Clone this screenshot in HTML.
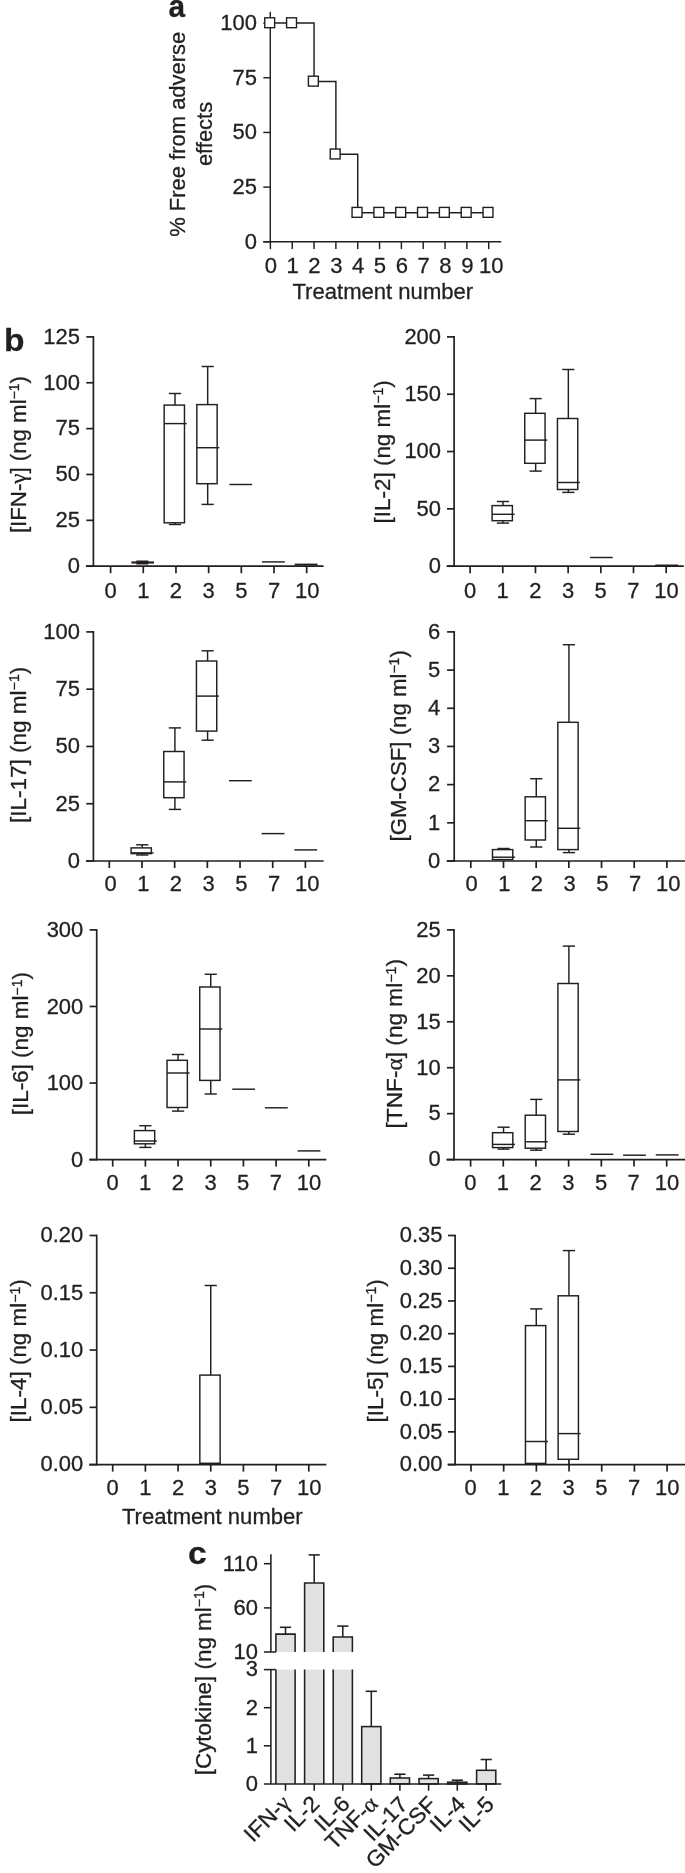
<!DOCTYPE html>
<html><head><meta charset="utf-8"><title>Figure</title>
<style>html,body{margin:0;padding:0;background:#fff}svg{display:block;will-change:transform}text{font-family:"Liberation Sans",sans-serif;fill:#231f20;stroke:#231f20;stroke-width:0.3px}</style>
</head><body>
<svg width="685" height="1873" viewBox="0 0 685 1873" fill="none" stroke="#231f20" stroke-linecap="butt">
<rect x="0" y="0" width="685" height="1873" fill="#fff" stroke="none"/>
<g transform="translate(0 0.30)">
<path d="M270.30 11.50L270.30 242.22" stroke-width="1.45"/>
<path d="M263.30 241.50L270.30 241.50" stroke-width="1.45"/>
<path d="M263.30 186.82L270.30 186.82" stroke-width="1.45"/>
<path d="M263.30 132.15L270.30 132.15" stroke-width="1.45"/>
<path d="M263.30 77.48L270.30 77.48" stroke-width="1.45"/>
<path d="M263.30 22.80L270.30 22.80" stroke-width="1.45"/>
<path d="M263.30 241.50L501.20 241.50" stroke-width="1.45"/>
<path d="M270.40 241.50L270.40 248.80" stroke-width="1.45"/>
<path d="M292.23 241.50L292.23 248.80" stroke-width="1.45"/>
<path d="M314.06 241.50L314.06 248.80" stroke-width="1.45"/>
<path d="M335.89 241.50L335.89 248.80" stroke-width="1.45"/>
<path d="M357.72 241.50L357.72 248.80" stroke-width="1.45"/>
<path d="M379.55 241.50L379.55 248.80" stroke-width="1.45"/>
<path d="M401.38 241.50L401.38 248.80" stroke-width="1.45"/>
<path d="M423.21 241.50L423.21 248.80" stroke-width="1.45"/>
<path d="M445.04 241.50L445.04 248.80" stroke-width="1.45"/>
<path d="M466.87 241.50L466.87 248.80" stroke-width="1.45"/>
<path d="M488.70 241.50L488.70 248.80" stroke-width="1.45"/>
<path d="M270.40 22.80L292.23 22.80L314.06 22.80L314.06 81.19L335.89 81.19L335.89 154.02L357.72 154.02L357.72 212.41L379.55 212.41L401.38 212.41L423.21 212.41L445.04 212.41L466.87 212.41L488.70 212.41" stroke-width="1.45" stroke-linejoin="miter"/>
<rect x="264.75" y="17.50" width="9.9" height="9.9" fill="#fff" stroke-width="1.4"/>
<rect x="286.58" y="17.50" width="9.9" height="9.9" fill="#fff" stroke-width="1.4"/>
<rect x="308.41" y="75.89" width="9.9" height="9.9" fill="#fff" stroke-width="1.4"/>
<rect x="330.24" y="148.72" width="9.9" height="9.9" fill="#fff" stroke-width="1.4"/>
<rect x="352.07" y="207.11" width="9.9" height="9.9" fill="#fff" stroke-width="1.4"/>
<rect x="373.90" y="207.11" width="9.9" height="9.9" fill="#fff" stroke-width="1.4"/>
<rect x="395.73" y="207.11" width="9.9" height="9.9" fill="#fff" stroke-width="1.4"/>
<rect x="417.56" y="207.11" width="9.9" height="9.9" fill="#fff" stroke-width="1.4"/>
<rect x="439.39" y="207.11" width="9.9" height="9.9" fill="#fff" stroke-width="1.4"/>
<rect x="461.22" y="207.11" width="9.9" height="9.9" fill="#fff" stroke-width="1.4"/>
<rect x="483.05" y="207.11" width="9.9" height="9.9" fill="#fff" stroke-width="1.4"/>
<path d="M93.40 335.75L93.40 566.75" stroke-width="1.7"/>
<path d="M86.30 336.60L93.40 336.60" stroke-width="1.7"/>
<path d="M86.30 382.46L93.40 382.46" stroke-width="1.7"/>
<path d="M86.30 428.32L93.40 428.32" stroke-width="1.7"/>
<path d="M86.30 474.18L93.40 474.18" stroke-width="1.7"/>
<path d="M86.30 520.04L93.40 520.04" stroke-width="1.7"/>
<path d="M86.30 565.90L93.40 565.90" stroke-width="1.7"/>
<path d="M85.90 565.90L323.60 565.90" stroke-width="1.7"/>
<path d="M110.60 565.90L110.60 572.90" stroke-width="1.7"/>
<path d="M143.28 565.90L143.28 572.90" stroke-width="1.7"/>
<path d="M175.96 565.90L175.96 572.90" stroke-width="1.7"/>
<path d="M208.64 565.90L208.64 572.90" stroke-width="1.7"/>
<path d="M241.32 565.90L241.32 572.90" stroke-width="1.7"/>
<path d="M274.00 565.90L274.00 572.90" stroke-width="1.7"/>
<path d="M306.68 565.90L306.68 572.90" stroke-width="1.7"/>
<path d="M131.43 562.20L154.03 562.20" stroke-width="2.2"/>
<path d="M136.33 562.20L148.33 562.20" stroke-width="4.0"/>
<path d="M175.01 404.80L175.01 393.20" stroke-width="1.45"/>
<path d="M168.91 393.20L181.11 393.20" stroke-width="1.45"/>
<path d="M175.01 522.50L175.01 524.20" stroke-width="1.45"/>
<path d="M168.91 524.20L181.11 524.20" stroke-width="1.45"/>
<rect x="164.16" y="404.80" width="20.30" height="117.70" fill="#fff" stroke-width="1.45"/>
<path d="M164.16 423.30L186.66 423.30" stroke-width="1.45"/>
<path d="M207.69 404.30L207.69 366.20" stroke-width="1.45"/>
<path d="M201.59 366.20L213.79 366.20" stroke-width="1.45"/>
<path d="M207.69 483.40L207.69 504.10" stroke-width="1.45"/>
<path d="M201.59 504.10L213.79 504.10" stroke-width="1.45"/>
<rect x="196.84" y="404.30" width="20.30" height="79.10" fill="#fff" stroke-width="1.45"/>
<path d="M196.84 447.40L219.34 447.40" stroke-width="1.45"/>
<path d="M229.37 484.20L252.17 484.20" stroke-width="1.45"/>
<path d="M262.05 561.60L284.85 561.60" stroke-width="1.45"/>
<path d="M294.73 564.30L317.53 564.30" stroke-width="2.0"/>
<path d="M454.10 335.75L454.10 566.75" stroke-width="1.7"/>
<path d="M447.00 336.60L454.10 336.60" stroke-width="1.7"/>
<path d="M447.00 393.93L454.10 393.93" stroke-width="1.7"/>
<path d="M447.00 451.25L454.10 451.25" stroke-width="1.7"/>
<path d="M447.00 508.57L454.10 508.57" stroke-width="1.7"/>
<path d="M447.00 565.90L454.10 565.90" stroke-width="1.7"/>
<path d="M446.60 565.90L683.80 565.90" stroke-width="1.7"/>
<path d="M470.10 565.90L470.10 572.90" stroke-width="1.7"/>
<path d="M502.78 565.90L502.78 572.90" stroke-width="1.7"/>
<path d="M535.46 565.90L535.46 572.90" stroke-width="1.7"/>
<path d="M568.14 565.90L568.14 572.90" stroke-width="1.7"/>
<path d="M600.82 565.90L600.82 572.90" stroke-width="1.7"/>
<path d="M633.50 565.90L633.50 572.90" stroke-width="1.7"/>
<path d="M666.18 565.90L666.18 572.90" stroke-width="1.7"/>
<path d="M502.98 505.30L502.98 501.20" stroke-width="1.45"/>
<path d="M496.88 501.20L509.08 501.20" stroke-width="1.45"/>
<path d="M502.98 520.40L502.98 522.80" stroke-width="1.45"/>
<path d="M496.88 522.80L509.08 522.80" stroke-width="1.45"/>
<rect x="492.08" y="505.30" width="20.30" height="15.10" fill="#fff" stroke-width="1.45"/>
<path d="M492.08 514.00L514.58 514.00" stroke-width="1.45"/>
<path d="M535.66 413.00L535.66 398.30" stroke-width="1.45"/>
<path d="M529.56 398.30L541.76 398.30" stroke-width="1.45"/>
<path d="M535.66 463.00L535.66 470.80" stroke-width="1.45"/>
<path d="M529.56 470.80L541.76 470.80" stroke-width="1.45"/>
<rect x="524.76" y="413.00" width="20.30" height="50.00" fill="#fff" stroke-width="1.45"/>
<path d="M524.76 439.80L547.26 439.80" stroke-width="1.45"/>
<path d="M568.34 418.20L568.34 369.20" stroke-width="1.45"/>
<path d="M562.24 369.20L574.44 369.20" stroke-width="1.45"/>
<path d="M568.34 489.20L568.34 492.10" stroke-width="1.45"/>
<path d="M562.24 492.10L574.44 492.10" stroke-width="1.45"/>
<rect x="557.44" y="418.20" width="20.30" height="71.00" fill="#fff" stroke-width="1.45"/>
<path d="M557.44 482.20L579.94 482.20" stroke-width="1.45"/>
<path d="M589.97 557.20L612.77 557.20" stroke-width="1.45"/>
<path d="M655.33 565.00L678.13 565.00" stroke-width="1.6"/>
<path d="M93.40 630.75L93.40 861.55" stroke-width="1.7"/>
<path d="M86.30 631.60L93.40 631.60" stroke-width="1.7"/>
<path d="M86.30 688.88L93.40 688.88" stroke-width="1.7"/>
<path d="M86.30 746.15L93.40 746.15" stroke-width="1.7"/>
<path d="M86.30 803.43L93.40 803.43" stroke-width="1.7"/>
<path d="M86.30 860.70L93.40 860.70" stroke-width="1.7"/>
<path d="M85.90 860.70L323.60 860.70" stroke-width="1.7"/>
<path d="M109.30 860.70L109.30 867.70" stroke-width="1.7"/>
<path d="M141.98 860.70L141.98 867.70" stroke-width="1.7"/>
<path d="M174.66 860.70L174.66 867.70" stroke-width="1.7"/>
<path d="M207.34 860.70L207.34 867.70" stroke-width="1.7"/>
<path d="M240.02 860.70L240.02 867.70" stroke-width="1.7"/>
<path d="M272.70 860.70L272.70 867.70" stroke-width="1.7"/>
<path d="M305.38 860.70L305.38 867.70" stroke-width="1.7"/>
<path d="M142.23 847.60L142.23 844.50" stroke-width="1.45"/>
<path d="M136.13 844.50L148.33 844.50" stroke-width="1.45"/>
<path d="M142.23 853.30L142.23 854.70" stroke-width="1.45"/>
<path d="M136.13 854.70L148.33 854.70" stroke-width="1.45"/>
<rect x="131.08" y="847.60" width="20.30" height="5.70" fill="#fff" stroke-width="1.45"/>
<path d="M131.08 852.60L153.58 852.60" stroke-width="1.45"/>
<path d="M174.91 751.20L174.91 727.60" stroke-width="1.45"/>
<path d="M168.81 727.60L181.01 727.60" stroke-width="1.45"/>
<path d="M174.91 797.40L174.91 809.10" stroke-width="1.45"/>
<path d="M168.81 809.10L181.01 809.10" stroke-width="1.45"/>
<rect x="163.76" y="751.20" width="20.30" height="46.20" fill="#fff" stroke-width="1.45"/>
<path d="M163.76 781.60L186.26 781.60" stroke-width="1.45"/>
<path d="M207.59 660.70L207.59 650.50" stroke-width="1.45"/>
<path d="M201.49 650.50L213.69 650.50" stroke-width="1.45"/>
<path d="M207.59 730.80L207.59 739.90" stroke-width="1.45"/>
<path d="M201.49 739.90L213.69 739.90" stroke-width="1.45"/>
<rect x="196.44" y="660.70" width="20.30" height="70.10" fill="#fff" stroke-width="1.45"/>
<path d="M196.44 695.80L218.94 695.80" stroke-width="1.45"/>
<path d="M228.97 780.40L251.77 780.40" stroke-width="1.45"/>
<path d="M261.65 833.30L284.45 833.30" stroke-width="1.45"/>
<path d="M294.33 849.60L317.13 849.60" stroke-width="1.45"/>
<path d="M454.20 630.75L454.20 861.55" stroke-width="1.7"/>
<path d="M447.10 631.60L454.20 631.60" stroke-width="1.7"/>
<path d="M447.10 669.78L454.20 669.78" stroke-width="1.7"/>
<path d="M447.10 707.97L454.20 707.97" stroke-width="1.7"/>
<path d="M447.10 746.15L454.20 746.15" stroke-width="1.7"/>
<path d="M447.10 784.33L454.20 784.33" stroke-width="1.7"/>
<path d="M447.10 822.52L454.20 822.52" stroke-width="1.7"/>
<path d="M447.10 860.70L454.20 860.70" stroke-width="1.7"/>
<path d="M446.70 860.70L685.00 860.70" stroke-width="1.7"/>
<path d="M470.80 860.70L470.80 867.70" stroke-width="1.7"/>
<path d="M503.48 860.70L503.48 867.70" stroke-width="1.7"/>
<path d="M536.16 860.70L536.16 867.70" stroke-width="1.7"/>
<path d="M568.84 860.70L568.84 867.70" stroke-width="1.7"/>
<path d="M601.52 860.70L601.52 867.70" stroke-width="1.7"/>
<path d="M634.20 860.70L634.20 867.70" stroke-width="1.7"/>
<path d="M666.88 860.70L666.88 867.70" stroke-width="1.7"/>
<path d="M503.58 849.30L503.58 848.20" stroke-width="1.45"/>
<path d="M497.48 848.20L509.68 848.20" stroke-width="1.45"/>
<rect x="492.48" y="849.30" width="20.30" height="10.00" fill="#fff" stroke-width="1.45"/>
<path d="M492.48 856.90L514.98 856.90" stroke-width="1.45"/>
<path d="M536.26 796.50L536.26 778.40" stroke-width="1.45"/>
<path d="M530.16 778.40L542.36 778.40" stroke-width="1.45"/>
<path d="M536.26 839.70L536.26 846.70" stroke-width="1.45"/>
<path d="M530.16 846.70L542.36 846.70" stroke-width="1.45"/>
<rect x="525.16" y="796.50" width="20.30" height="43.20" fill="#fff" stroke-width="1.45"/>
<path d="M525.16 820.40L547.66 820.40" stroke-width="1.45"/>
<path d="M568.94 722.00L568.94 644.40" stroke-width="1.45"/>
<path d="M562.84 644.40L575.04 644.40" stroke-width="1.45"/>
<path d="M568.94 849.30L568.94 852.30" stroke-width="1.45"/>
<path d="M562.84 852.30L575.04 852.30" stroke-width="1.45"/>
<rect x="557.84" y="722.00" width="20.30" height="127.30" fill="#fff" stroke-width="1.45"/>
<path d="M557.84 828.00L580.34 828.00" stroke-width="1.45"/>
<path d="M96.70 928.75L96.70 1160.15" stroke-width="1.7"/>
<path d="M89.60 929.60L96.70 929.60" stroke-width="1.7"/>
<path d="M89.60 1006.17L96.70 1006.17" stroke-width="1.7"/>
<path d="M89.60 1082.73L96.70 1082.73" stroke-width="1.7"/>
<path d="M89.60 1159.30L96.70 1159.30" stroke-width="1.7"/>
<path d="M89.20 1159.30L326.30 1159.30" stroke-width="1.7"/>
<path d="M112.70 1159.30L112.70 1166.30" stroke-width="1.7"/>
<path d="M145.38 1159.30L145.38 1166.30" stroke-width="1.7"/>
<path d="M178.06 1159.30L178.06 1166.30" stroke-width="1.7"/>
<path d="M210.74 1159.30L210.74 1166.30" stroke-width="1.7"/>
<path d="M243.42 1159.30L243.42 1166.30" stroke-width="1.7"/>
<path d="M276.10 1159.30L276.10 1166.30" stroke-width="1.7"/>
<path d="M308.78 1159.30L308.78 1166.30" stroke-width="1.7"/>
<path d="M145.38 1130.30L145.38 1125.40" stroke-width="1.45"/>
<path d="M139.28 1125.40L151.48 1125.40" stroke-width="1.45"/>
<path d="M145.38 1143.50L145.38 1147.10" stroke-width="1.45"/>
<path d="M139.28 1147.10L151.48 1147.10" stroke-width="1.45"/>
<rect x="134.38" y="1130.30" width="20.30" height="13.20" fill="#fff" stroke-width="1.45"/>
<path d="M134.38 1140.70L156.88 1140.70" stroke-width="1.45"/>
<path d="M178.06 1060.00L178.06 1054.20" stroke-width="1.45"/>
<path d="M171.96 1054.20L184.16 1054.20" stroke-width="1.45"/>
<path d="M178.06 1107.20L178.06 1110.80" stroke-width="1.45"/>
<path d="M171.96 1110.80L184.16 1110.80" stroke-width="1.45"/>
<rect x="167.06" y="1060.00" width="20.30" height="47.20" fill="#fff" stroke-width="1.45"/>
<path d="M167.06 1072.70L189.56 1072.70" stroke-width="1.45"/>
<path d="M210.74 986.70L210.74 974.00" stroke-width="1.45"/>
<path d="M204.64 974.00L216.84 974.00" stroke-width="1.45"/>
<path d="M210.74 1080.10L210.74 1093.70" stroke-width="1.45"/>
<path d="M204.64 1093.70L216.84 1093.70" stroke-width="1.45"/>
<rect x="199.74" y="986.70" width="20.30" height="93.40" fill="#fff" stroke-width="1.45"/>
<path d="M199.74 1028.70L222.24 1028.70" stroke-width="1.45"/>
<path d="M232.27 1088.90L255.07 1088.90" stroke-width="1.45"/>
<path d="M264.95 1107.50L287.75 1107.50" stroke-width="1.45"/>
<path d="M297.63 1150.60L320.43 1150.60" stroke-width="1.45"/>
<path d="M454.00 928.75L454.00 1160.15" stroke-width="1.7"/>
<path d="M446.90 929.60L454.00 929.60" stroke-width="1.7"/>
<path d="M446.90 975.54L454.00 975.54" stroke-width="1.7"/>
<path d="M446.90 1021.48L454.00 1021.48" stroke-width="1.7"/>
<path d="M446.90 1067.42L454.00 1067.42" stroke-width="1.7"/>
<path d="M446.90 1113.36L454.00 1113.36" stroke-width="1.7"/>
<path d="M446.90 1159.30L454.00 1159.30" stroke-width="1.7"/>
<path d="M446.50 1159.30L685.00 1159.30" stroke-width="1.7"/>
<path d="M470.60 1159.30L470.60 1166.30" stroke-width="1.7"/>
<path d="M503.28 1159.30L503.28 1166.30" stroke-width="1.7"/>
<path d="M535.96 1159.30L535.96 1166.30" stroke-width="1.7"/>
<path d="M568.64 1159.30L568.64 1166.30" stroke-width="1.7"/>
<path d="M601.32 1159.30L601.32 1166.30" stroke-width="1.7"/>
<path d="M634.00 1159.30L634.00 1166.30" stroke-width="1.7"/>
<path d="M666.68 1159.30L666.68 1166.30" stroke-width="1.7"/>
<path d="M503.53 1132.40L503.53 1126.90" stroke-width="1.45"/>
<path d="M497.43 1126.90L509.63 1126.90" stroke-width="1.45"/>
<path d="M503.53 1147.30L503.53 1148.80" stroke-width="1.45"/>
<path d="M497.43 1148.80L509.63 1148.80" stroke-width="1.45"/>
<rect x="492.53" y="1132.40" width="20.30" height="14.90" fill="#fff" stroke-width="1.45"/>
<path d="M492.53 1144.10L515.03 1144.10" stroke-width="1.45"/>
<path d="M536.21 1114.90L536.21 1099.10" stroke-width="1.45"/>
<path d="M530.11 1099.10L542.31 1099.10" stroke-width="1.45"/>
<path d="M536.21 1147.90L536.21 1149.90" stroke-width="1.45"/>
<path d="M530.11 1149.90L542.31 1149.90" stroke-width="1.45"/>
<rect x="525.21" y="1114.90" width="20.30" height="33.00" fill="#fff" stroke-width="1.45"/>
<path d="M525.21 1141.50L547.71 1141.50" stroke-width="1.45"/>
<path d="M568.89 983.20L568.89 945.80" stroke-width="1.45"/>
<path d="M562.79 945.80L574.99 945.80" stroke-width="1.45"/>
<path d="M568.89 1131.20L568.89 1133.90" stroke-width="1.45"/>
<path d="M562.79 1133.90L574.99 1133.90" stroke-width="1.45"/>
<rect x="557.89" y="983.20" width="20.30" height="148.00" fill="#fff" stroke-width="1.45"/>
<path d="M557.89 1079.60L580.39 1079.60" stroke-width="1.45"/>
<path d="M590.42 1154.00L613.22 1154.00" stroke-width="1.45"/>
<path d="M623.10 1154.90L645.90 1154.90" stroke-width="1.45"/>
<path d="M655.78 1154.60L678.58 1154.60" stroke-width="1.45"/>
<path d="M96.70 1234.35L96.70 1465.15" stroke-width="1.7"/>
<path d="M89.60 1235.20L96.70 1235.20" stroke-width="1.7"/>
<path d="M89.60 1292.47L96.70 1292.47" stroke-width="1.7"/>
<path d="M89.60 1349.75L96.70 1349.75" stroke-width="1.7"/>
<path d="M89.60 1407.03L96.70 1407.03" stroke-width="1.7"/>
<path d="M89.60 1464.30L96.70 1464.30" stroke-width="1.7"/>
<path d="M89.20 1464.30L326.30 1464.30" stroke-width="1.7"/>
<path d="M112.70 1464.30L112.70 1471.30" stroke-width="1.7"/>
<path d="M145.38 1464.30L145.38 1471.30" stroke-width="1.7"/>
<path d="M178.06 1464.30L178.06 1471.30" stroke-width="1.7"/>
<path d="M210.74 1464.30L210.74 1471.30" stroke-width="1.7"/>
<path d="M243.42 1464.30L243.42 1471.30" stroke-width="1.7"/>
<path d="M276.10 1464.30L276.10 1471.30" stroke-width="1.7"/>
<path d="M308.78 1464.30L308.78 1471.30" stroke-width="1.7"/>
<path d="M210.74 1374.80L210.74 1285.20" stroke-width="1.45"/>
<path d="M204.64 1285.20L216.84 1285.20" stroke-width="1.45"/>
<rect x="199.84" y="1374.80" width="20.30" height="88.60" fill="#fff" stroke-width="1.45"/>
<path d="M199.84 1463.00L220.14 1463.00" stroke-width="1.45"/>
<path d="M455.10 1234.35L455.10 1465.15" stroke-width="1.7"/>
<path d="M448.00 1235.20L455.10 1235.20" stroke-width="1.7"/>
<path d="M448.00 1267.93L455.10 1267.93" stroke-width="1.7"/>
<path d="M448.00 1300.66L455.10 1300.66" stroke-width="1.7"/>
<path d="M448.00 1333.39L455.10 1333.39" stroke-width="1.7"/>
<path d="M448.00 1366.11L455.10 1366.11" stroke-width="1.7"/>
<path d="M448.00 1398.84L455.10 1398.84" stroke-width="1.7"/>
<path d="M448.00 1431.57L455.10 1431.57" stroke-width="1.7"/>
<path d="M448.00 1464.30L455.10 1464.30" stroke-width="1.7"/>
<path d="M447.60 1464.30L685.00 1464.30" stroke-width="1.7"/>
<path d="M471.00 1464.30L471.00 1471.30" stroke-width="1.7"/>
<path d="M503.68 1464.30L503.68 1471.30" stroke-width="1.7"/>
<path d="M536.36 1464.30L536.36 1471.30" stroke-width="1.7"/>
<path d="M569.04 1464.30L569.04 1471.30" stroke-width="1.7"/>
<path d="M601.72 1464.30L601.72 1471.30" stroke-width="1.7"/>
<path d="M634.40 1464.30L634.40 1471.30" stroke-width="1.7"/>
<path d="M667.08 1464.30L667.08 1471.30" stroke-width="1.7"/>
<path d="M536.26 1325.30L536.26 1308.60" stroke-width="1.45"/>
<path d="M530.16 1308.60L542.36 1308.60" stroke-width="1.45"/>
<rect x="525.46" y="1325.30" width="20.30" height="137.80" fill="#fff" stroke-width="1.45"/>
<path d="M525.46 1441.20L547.96 1441.20" stroke-width="1.45"/>
<path d="M568.94 1295.50L568.94 1250.30" stroke-width="1.45"/>
<path d="M562.84 1250.30L575.04 1250.30" stroke-width="1.45"/>
<rect x="558.14" y="1295.50" width="20.30" height="163.50" fill="#fff" stroke-width="1.45"/>
<path d="M558.14 1433.30L580.64 1433.30" stroke-width="1.45"/>
<path d="M568.94 1459.00L568.94 1464.20" stroke-width="1.7"/>
<path d="M285.50 1633.80L285.50 1627.00" stroke-width="1.55"/>
<path d="M279.90 1627.00L291.10 1627.00" stroke-width="1.55"/>
<rect x="275.90" y="1633.80" width="19.2" height="17.90" fill="#e1e1e2" stroke="none"/>
<path d="M275.90 1651.70L275.90 1633.80L295.10 1633.80L295.10 1651.70" stroke-width="1.55"/>
<rect x="275.90" y="1669.30" width="19.2" height="114.30" fill="#e1e1e2" stroke="none"/>
<path d="M275.90 1669.30L275.90 1783.60M295.10 1669.30L295.10 1783.60" stroke-width="1.55"/>
<path d="M314.20 1582.60L314.20 1554.60" stroke-width="1.55"/>
<path d="M308.60 1554.60L319.80 1554.60" stroke-width="1.55"/>
<rect x="304.60" y="1582.60" width="19.2" height="69.10" fill="#e1e1e2" stroke="none"/>
<path d="M304.60 1651.70L304.60 1582.60L323.80 1582.60L323.80 1651.70" stroke-width="1.55"/>
<rect x="304.60" y="1669.30" width="19.2" height="114.30" fill="#e1e1e2" stroke="none"/>
<path d="M304.60 1669.30L304.60 1783.60M323.80 1669.30L323.80 1783.60" stroke-width="1.55"/>
<path d="M342.80 1636.60L342.80 1625.80" stroke-width="1.55"/>
<path d="M337.20 1625.80L348.40 1625.80" stroke-width="1.55"/>
<rect x="333.20" y="1636.60" width="19.2" height="15.10" fill="#e1e1e2" stroke="none"/>
<path d="M333.20 1651.70L333.20 1636.60L352.40 1636.60L352.40 1651.70" stroke-width="1.55"/>
<rect x="333.20" y="1669.30" width="19.2" height="114.30" fill="#e1e1e2" stroke="none"/>
<path d="M333.20 1669.30L333.20 1783.60M352.40 1669.30L352.40 1783.60" stroke-width="1.55"/>
<path d="M371.30 1726.30L371.30 1691.00" stroke-width="1.55"/>
<path d="M365.70 1691.00L376.90 1691.00" stroke-width="1.55"/>
<rect x="361.70" y="1726.30" width="19.2" height="57.30" fill="#e1e1e2" stroke-width="1.55"/>
<path d="M399.90 1777.70L399.90 1773.90" stroke-width="1.55"/>
<path d="M394.30 1773.90L405.50 1773.90" stroke-width="1.55"/>
<rect x="390.30" y="1777.70" width="19.2" height="5.90" fill="#e1e1e2" stroke-width="1.55"/>
<path d="M428.60 1778.30L428.60 1774.80" stroke-width="1.55"/>
<path d="M423.00 1774.80L434.20 1774.80" stroke-width="1.55"/>
<rect x="419.00" y="1778.30" width="19.2" height="5.30" fill="#e1e1e2" stroke-width="1.55"/>
<path d="M457.30 1781.90L457.30 1779.90" stroke-width="1.55"/>
<path d="M451.70 1779.90L462.90 1779.90" stroke-width="1.55"/>
<rect x="447.70" y="1781.90" width="19.2" height="1.70" fill="#e1e1e2" stroke-width="1.55"/>
<path d="M486.20 1770.00L486.20 1759.20" stroke-width="1.55"/>
<path d="M480.60 1759.20L491.80 1759.20" stroke-width="1.55"/>
<rect x="476.60" y="1770.00" width="19.2" height="13.60" fill="#e1e1e2" stroke-width="1.55"/>
<path d="M270.90 1554.00L270.90 1651.70" stroke-width="1.55"/>
<path d="M263.90 1651.70L275.90 1651.70" stroke-width="1.55"/>
<path d="M263.90 1563.40L270.90 1563.40" stroke-width="1.55"/>
<path d="M263.90 1607.60L270.90 1607.60" stroke-width="1.55"/>
<path d="M270.90 1669.30L270.90 1783.60" stroke-width="1.55"/>
<path d="M263.90 1669.30L275.90 1669.30" stroke-width="1.55"/>
<path d="M263.90 1707.40L270.90 1707.40" stroke-width="1.55"/>
<path d="M263.90 1745.50L270.90 1745.50" stroke-width="1.55"/>
<path d="M263.90 1783.60L501.30 1783.60" stroke-width="1.55"/>
<path d="M285.50 1783.60L285.50 1790.40" stroke-width="1.55"/>
<path d="M314.20 1783.60L314.20 1790.40" stroke-width="1.55"/>
<path d="M342.80 1783.60L342.80 1790.40" stroke-width="1.55"/>
<path d="M371.30 1783.60L371.30 1790.40" stroke-width="1.55"/>
<path d="M399.90 1783.60L399.90 1790.40" stroke-width="1.55"/>
<path d="M428.60 1783.60L428.60 1790.40" stroke-width="1.55"/>
<path d="M457.30 1783.60L457.30 1790.40" stroke-width="1.55"/>
<path d="M486.20 1783.60L486.20 1790.40" stroke-width="1.55"/>
</g>
<g>
<text transform="translate(168.40 17.00) scale(0.93 1)" text-anchor="start" font-size="32" font-weight="bold">a</text>
<text transform="translate(256.90 249.10) scale(0.99 1)" text-anchor="end" font-size="22.2">0</text>
<text transform="translate(256.90 194.28) scale(0.99 1)" text-anchor="end" font-size="22.2">25</text>
<text transform="translate(256.90 139.45) scale(0.99 1)" text-anchor="end" font-size="22.2">50</text>
<text transform="translate(256.90 84.62) scale(0.99 1)" text-anchor="end" font-size="22.2">75</text>
<text transform="translate(256.90 29.80) scale(0.99 1)" text-anchor="end" font-size="22.2">100</text>
<text transform="translate(270.80 272.90) scale(0.995 1)" text-anchor="middle" font-size="22.2">0</text>
<text transform="translate(292.63 272.90) scale(0.995 1)" text-anchor="middle" font-size="22.2">1</text>
<text transform="translate(314.46 272.90) scale(0.995 1)" text-anchor="middle" font-size="22.2">2</text>
<text transform="translate(336.29 272.90) scale(0.995 1)" text-anchor="middle" font-size="22.2">3</text>
<text transform="translate(358.12 272.90) scale(0.995 1)" text-anchor="middle" font-size="22.2">4</text>
<text transform="translate(379.95 272.90) scale(0.995 1)" text-anchor="middle" font-size="22.2">5</text>
<text transform="translate(401.78 272.90) scale(0.995 1)" text-anchor="middle" font-size="22.2">6</text>
<text transform="translate(423.61 272.90) scale(0.995 1)" text-anchor="middle" font-size="22.2">7</text>
<text transform="translate(445.44 272.90) scale(0.995 1)" text-anchor="middle" font-size="22.2">8</text>
<text transform="translate(467.27 272.90) scale(0.995 1)" text-anchor="middle" font-size="22.2">9</text>
<text transform="translate(491.30 272.90) scale(0.99 1)" text-anchor="middle" font-size="22.2">10</text>
<text transform="translate(382.80 299.00) scale(0.995 1)" text-anchor="middle" font-size="22.2">Treatment number</text>
<text transform="translate(184.90 236.80) rotate(-90)" text-anchor="start" font-size="22.2" textLength="205.10" lengthAdjust="spacingAndGlyphs">% Free from adverse</text>
<text transform="translate(211.50 166.10) rotate(-90)" text-anchor="start" font-size="22.2" textLength="64.20" lengthAdjust="spacingAndGlyphs">effects</text>
<text transform="translate(4.10 350.60) scale(1.05 1)" text-anchor="start" font-size="32" font-weight="bold">b</text>
<text transform="translate(80.00 343.70) scale(0.99 1)" text-anchor="end" font-size="22.2">125</text>
<text transform="translate(80.00 389.56) scale(0.99 1)" text-anchor="end" font-size="22.2">100</text>
<text transform="translate(80.00 435.42) scale(0.99 1)" text-anchor="end" font-size="22.2">75</text>
<text transform="translate(80.00 481.28) scale(0.99 1)" text-anchor="end" font-size="22.2">50</text>
<text transform="translate(80.00 527.14) scale(0.99 1)" text-anchor="end" font-size="22.2">25</text>
<text transform="translate(80.00 573.00) scale(0.99 1)" text-anchor="end" font-size="22.2">0</text>
<text transform="translate(110.60 598.00) scale(0.99 1)" text-anchor="middle" font-size="22.2">0</text>
<text transform="translate(143.28 598.00) scale(0.99 1)" text-anchor="middle" font-size="22.2">1</text>
<text transform="translate(175.96 598.00) scale(0.99 1)" text-anchor="middle" font-size="22.2">2</text>
<text transform="translate(208.64 598.00) scale(0.99 1)" text-anchor="middle" font-size="22.2">3</text>
<text transform="translate(241.32 598.00) scale(0.99 1)" text-anchor="middle" font-size="22.2">5</text>
<text transform="translate(274.00 598.00) scale(0.99 1)" text-anchor="middle" font-size="22.2">7</text>
<text transform="translate(307.18 598.00) scale(0.99 1)" text-anchor="middle" font-size="22.2">10</text>
<text transform="translate(25.80 533.10) rotate(-90)" text-anchor="start" font-size="22.2" textLength="157.10" lengthAdjust="spacingAndGlyphs">[IFN-<tspan font-family="Liberation Serif" font-size="23">γ</tspan>] (ng ml<tspan font-size="14" dy="-6.5">−1</tspan><tspan dy="6.5">)</tspan></text>
<text transform="translate(441.05 343.70) scale(0.99 1)" text-anchor="end" font-size="22.2">200</text>
<text transform="translate(441.05 401.03) scale(0.99 1)" text-anchor="end" font-size="22.2">150</text>
<text transform="translate(441.05 458.35) scale(0.99 1)" text-anchor="end" font-size="22.2">100</text>
<text transform="translate(441.05 515.67) scale(0.99 1)" text-anchor="end" font-size="22.2">50</text>
<text transform="translate(441.05 573.00) scale(0.99 1)" text-anchor="end" font-size="22.2">0</text>
<text transform="translate(470.00 597.70) scale(0.99 1)" text-anchor="middle" font-size="22.2">0</text>
<text transform="translate(502.68 597.70) scale(0.99 1)" text-anchor="middle" font-size="22.2">1</text>
<text transform="translate(535.36 597.70) scale(0.99 1)" text-anchor="middle" font-size="22.2">2</text>
<text transform="translate(568.04 597.70) scale(0.99 1)" text-anchor="middle" font-size="22.2">3</text>
<text transform="translate(600.72 597.70) scale(0.99 1)" text-anchor="middle" font-size="22.2">5</text>
<text transform="translate(633.40 597.70) scale(0.99 1)" text-anchor="middle" font-size="22.2">7</text>
<text transform="translate(666.58 597.70) scale(0.99 1)" text-anchor="middle" font-size="22.2">10</text>
<text transform="translate(389.90 523.40) rotate(-90)" text-anchor="start" font-size="22.2" textLength="143.20" lengthAdjust="spacingAndGlyphs">[IL-2] (ng ml<tspan font-size="14" dy="-6.5">−1</tspan><tspan dy="6.5">)</tspan></text>
<text transform="translate(80.00 638.70) scale(0.99 1)" text-anchor="end" font-size="22.2">100</text>
<text transform="translate(80.00 695.98) scale(0.99 1)" text-anchor="end" font-size="22.2">75</text>
<text transform="translate(80.00 753.25) scale(0.99 1)" text-anchor="end" font-size="22.2">50</text>
<text transform="translate(80.00 810.53) scale(0.99 1)" text-anchor="end" font-size="22.2">25</text>
<text transform="translate(80.00 867.80) scale(0.99 1)" text-anchor="end" font-size="22.2">0</text>
<text transform="translate(110.60 890.50) scale(0.99 1)" text-anchor="middle" font-size="22.2">0</text>
<text transform="translate(143.28 890.50) scale(0.99 1)" text-anchor="middle" font-size="22.2">1</text>
<text transform="translate(175.96 890.50) scale(0.99 1)" text-anchor="middle" font-size="22.2">2</text>
<text transform="translate(208.64 890.50) scale(0.99 1)" text-anchor="middle" font-size="22.2">3</text>
<text transform="translate(241.32 890.50) scale(0.99 1)" text-anchor="middle" font-size="22.2">5</text>
<text transform="translate(274.00 890.50) scale(0.99 1)" text-anchor="middle" font-size="22.2">7</text>
<text transform="translate(307.18 890.50) scale(0.99 1)" text-anchor="middle" font-size="22.2">10</text>
<text transform="translate(25.50 823.10) rotate(-90)" text-anchor="start" font-size="22.2" textLength="156.40" lengthAdjust="spacingAndGlyphs">[IL-17] (ng ml<tspan font-size="14" dy="-6.5">−1</tspan><tspan dy="6.5">)</tspan></text>
<text transform="translate(440.30 638.70) scale(0.99 1)" text-anchor="end" font-size="22.2">6</text>
<text transform="translate(440.30 676.88) scale(0.99 1)" text-anchor="end" font-size="22.2">5</text>
<text transform="translate(440.30 715.07) scale(0.99 1)" text-anchor="end" font-size="22.2">4</text>
<text transform="translate(440.30 753.25) scale(0.99 1)" text-anchor="end" font-size="22.2">3</text>
<text transform="translate(440.30 791.43) scale(0.99 1)" text-anchor="end" font-size="22.2">2</text>
<text transform="translate(440.30 829.62) scale(0.99 1)" text-anchor="end" font-size="22.2">1</text>
<text transform="translate(440.30 867.80) scale(0.99 1)" text-anchor="end" font-size="22.2">0</text>
<text transform="translate(471.60 890.50) scale(0.99 1)" text-anchor="middle" font-size="22.2">0</text>
<text transform="translate(504.28 890.50) scale(0.99 1)" text-anchor="middle" font-size="22.2">1</text>
<text transform="translate(536.96 890.50) scale(0.99 1)" text-anchor="middle" font-size="22.2">2</text>
<text transform="translate(569.64 890.50) scale(0.99 1)" text-anchor="middle" font-size="22.2">3</text>
<text transform="translate(602.32 890.50) scale(0.99 1)" text-anchor="middle" font-size="22.2">5</text>
<text transform="translate(635.00 890.50) scale(0.99 1)" text-anchor="middle" font-size="22.2">7</text>
<text transform="translate(668.18 890.50) scale(0.99 1)" text-anchor="middle" font-size="22.2">10</text>
<text transform="translate(405.80 841.50) rotate(-90)" text-anchor="start" font-size="22.2" textLength="191.30" lengthAdjust="spacingAndGlyphs">[GM-CSF] (ng ml<tspan font-size="14" dy="-6.5">−1</tspan><tspan dy="6.5">)</tspan></text>
<text transform="translate(83.30 937.30) scale(0.99 1)" text-anchor="end" font-size="22.2">300</text>
<text transform="translate(83.30 1013.87) scale(0.99 1)" text-anchor="end" font-size="22.2">200</text>
<text transform="translate(83.30 1090.43) scale(0.99 1)" text-anchor="end" font-size="22.2">100</text>
<text transform="translate(83.30 1167.00) scale(0.99 1)" text-anchor="end" font-size="22.2">0</text>
<text transform="translate(112.50 1189.90) scale(0.99 1)" text-anchor="middle" font-size="22.2">0</text>
<text transform="translate(145.18 1189.90) scale(0.99 1)" text-anchor="middle" font-size="22.2">1</text>
<text transform="translate(177.86 1189.90) scale(0.99 1)" text-anchor="middle" font-size="22.2">2</text>
<text transform="translate(210.54 1189.90) scale(0.99 1)" text-anchor="middle" font-size="22.2">3</text>
<text transform="translate(243.22 1189.90) scale(0.99 1)" text-anchor="middle" font-size="22.2">5</text>
<text transform="translate(275.90 1189.90) scale(0.99 1)" text-anchor="middle" font-size="22.2">7</text>
<text transform="translate(309.08 1189.90) scale(0.99 1)" text-anchor="middle" font-size="22.2">10</text>
<text transform="translate(28.40 1115.30) rotate(-90)" text-anchor="start" font-size="22.2" textLength="143.30" lengthAdjust="spacingAndGlyphs">[IL-6] (ng ml<tspan font-size="14" dy="-6.5">−1</tspan><tspan dy="6.5">)</tspan></text>
<text transform="translate(440.60 936.70) scale(0.99 1)" text-anchor="end" font-size="22.2">25</text>
<text transform="translate(440.60 982.64) scale(0.99 1)" text-anchor="end" font-size="22.2">20</text>
<text transform="translate(440.60 1028.58) scale(0.99 1)" text-anchor="end" font-size="22.2">15</text>
<text transform="translate(440.60 1074.52) scale(0.99 1)" text-anchor="end" font-size="22.2">10</text>
<text transform="translate(440.60 1120.46) scale(0.99 1)" text-anchor="end" font-size="22.2">5</text>
<text transform="translate(440.60 1166.40) scale(0.99 1)" text-anchor="end" font-size="22.2">0</text>
<text transform="translate(470.30 1190.30) scale(0.99 1)" text-anchor="middle" font-size="22.2">0</text>
<text transform="translate(502.98 1190.30) scale(0.99 1)" text-anchor="middle" font-size="22.2">1</text>
<text transform="translate(535.66 1190.30) scale(0.99 1)" text-anchor="middle" font-size="22.2">2</text>
<text transform="translate(568.34 1190.30) scale(0.99 1)" text-anchor="middle" font-size="22.2">3</text>
<text transform="translate(601.02 1190.30) scale(0.99 1)" text-anchor="middle" font-size="22.2">5</text>
<text transform="translate(633.70 1190.30) scale(0.99 1)" text-anchor="middle" font-size="22.2">7</text>
<text transform="translate(666.88 1190.30) scale(0.99 1)" text-anchor="middle" font-size="22.2">10</text>
<text transform="translate(402.20 1128.40) rotate(-90)" text-anchor="start" font-size="22.2" textLength="169.50" lengthAdjust="spacingAndGlyphs">[TNF-<tspan font-family="Liberation Serif" font-size="23">α</tspan>] (ng ml<tspan font-size="14" dy="-6.5">−1</tspan><tspan dy="6.5">)</tspan></text>
<text transform="translate(83.30 1242.30) scale(0.99 1)" text-anchor="end" font-size="22.2">0.20</text>
<text transform="translate(83.30 1299.57) scale(0.99 1)" text-anchor="end" font-size="22.2">0.15</text>
<text transform="translate(83.30 1356.85) scale(0.99 1)" text-anchor="end" font-size="22.2">0.10</text>
<text transform="translate(83.30 1414.12) scale(0.99 1)" text-anchor="end" font-size="22.2">0.05</text>
<text transform="translate(83.30 1471.40) scale(0.99 1)" text-anchor="end" font-size="22.2">0.00</text>
<text transform="translate(112.70 1494.70) scale(0.99 1)" text-anchor="middle" font-size="22.2">0</text>
<text transform="translate(145.38 1494.70) scale(0.99 1)" text-anchor="middle" font-size="22.2">1</text>
<text transform="translate(178.06 1494.70) scale(0.99 1)" text-anchor="middle" font-size="22.2">2</text>
<text transform="translate(210.74 1494.70) scale(0.99 1)" text-anchor="middle" font-size="22.2">3</text>
<text transform="translate(243.42 1494.70) scale(0.99 1)" text-anchor="middle" font-size="22.2">5</text>
<text transform="translate(276.10 1494.70) scale(0.99 1)" text-anchor="middle" font-size="22.2">7</text>
<text transform="translate(309.28 1494.70) scale(0.99 1)" text-anchor="middle" font-size="22.2">10</text>
<text transform="translate(26.20 1422.40) rotate(-90)" text-anchor="start" font-size="22.2" textLength="143.20" lengthAdjust="spacingAndGlyphs">[IL-4] (ng ml<tspan font-size="14" dy="-6.5">−1</tspan><tspan dy="6.5">)</tspan></text>
<text transform="translate(212.30 1523.50) scale(0.995 1)" text-anchor="middle" font-size="22.2">Treatment number</text>
<text transform="translate(442.50 1242.30) scale(0.99 1)" text-anchor="end" font-size="22.2">0.35</text>
<text transform="translate(442.50 1275.03) scale(0.99 1)" text-anchor="end" font-size="22.2">0.30</text>
<text transform="translate(442.50 1307.76) scale(0.99 1)" text-anchor="end" font-size="22.2">0.25</text>
<text transform="translate(442.50 1340.49) scale(0.99 1)" text-anchor="end" font-size="22.2">0.20</text>
<text transform="translate(442.50 1373.21) scale(0.99 1)" text-anchor="end" font-size="22.2">0.15</text>
<text transform="translate(442.50 1405.94) scale(0.99 1)" text-anchor="end" font-size="22.2">0.10</text>
<text transform="translate(442.50 1438.67) scale(0.99 1)" text-anchor="end" font-size="22.2">0.05</text>
<text transform="translate(442.50 1471.40) scale(0.99 1)" text-anchor="end" font-size="22.2">0.00</text>
<text transform="translate(470.60 1494.70) scale(0.99 1)" text-anchor="middle" font-size="22.2">0</text>
<text transform="translate(503.28 1494.70) scale(0.99 1)" text-anchor="middle" font-size="22.2">1</text>
<text transform="translate(535.96 1494.70) scale(0.99 1)" text-anchor="middle" font-size="22.2">2</text>
<text transform="translate(568.64 1494.70) scale(0.99 1)" text-anchor="middle" font-size="22.2">3</text>
<text transform="translate(601.32 1494.70) scale(0.99 1)" text-anchor="middle" font-size="22.2">5</text>
<text transform="translate(634.00 1494.70) scale(0.99 1)" text-anchor="middle" font-size="22.2">7</text>
<text transform="translate(667.18 1494.70) scale(0.99 1)" text-anchor="middle" font-size="22.2">10</text>
<text transform="translate(382.50 1422.40) rotate(-90)" text-anchor="start" font-size="22.2" textLength="143.20" lengthAdjust="spacingAndGlyphs">[IL-5] (ng ml<tspan font-size="14" dy="-6.5">−1</tspan><tspan dy="6.5">)</tspan></text>
<text transform="translate(188.10 1564.10) scale(1.05 1)" text-anchor="start" font-size="32" font-weight="bold">c</text>
<text transform="translate(257.90 1570.50) scale(0.99 1)" text-anchor="end" font-size="22.2">110</text>
<text transform="translate(257.90 1614.70) scale(0.99 1)" text-anchor="end" font-size="22.2">60</text>
<text transform="translate(257.90 1658.80) scale(0.99 1)" text-anchor="end" font-size="22.2">10</text>
<text transform="translate(257.90 1676.40) scale(0.99 1)" text-anchor="end" font-size="22.2">3</text>
<text transform="translate(257.90 1714.50) scale(0.99 1)" text-anchor="end" font-size="22.2">2</text>
<text transform="translate(257.90 1752.60) scale(0.99 1)" text-anchor="end" font-size="22.2">1</text>
<text transform="translate(257.90 1790.70) scale(0.99 1)" text-anchor="end" font-size="22.2">0</text>
<text transform="translate(291.40 1804.40) rotate(-45.5) scale(1.025 1)" text-anchor="end" font-size="22.2">IFN-<tspan font-family="Liberation Serif" font-size="23">γ</tspan></text>
<text transform="translate(320.80 1805.10) rotate(-45.5) scale(1.025 1)" text-anchor="end" font-size="22.2">IL-2</text>
<text transform="translate(351.00 1804.90) rotate(-45.5) scale(1.025 1)" text-anchor="end" font-size="22.2">IL-6</text>
<text transform="translate(379.20 1805.20) rotate(-45.5) scale(1.025 1)" text-anchor="end" font-size="22.2">TNF-<tspan font-family="Liberation Serif" font-size="23">α</tspan></text>
<text transform="translate(409.10 1805.60) rotate(-45.5) scale(1.025 1)" text-anchor="end" font-size="22.2">IL-17</text>
<text transform="translate(437.80 1805.60) rotate(-45.5) scale(1.025 1)" text-anchor="end" font-size="22.2">GM-CSF</text>
<text transform="translate(466.50 1805.60) rotate(-45.5) scale(1.025 1)" text-anchor="end" font-size="22.2">IL-4</text>
<text transform="translate(495.40 1805.60) rotate(-45.5) scale(1.025 1)" text-anchor="end" font-size="22.2">IL-5</text>
<text transform="translate(210.60 1775.20) rotate(-90)" text-anchor="start" font-size="22.2" textLength="191.40" lengthAdjust="spacingAndGlyphs">[Cytokine] (ng ml<tspan font-size="14" dy="-6.5">−1</tspan><tspan dy="6.5">)</tspan></text>
</g>
</svg></body></html>
